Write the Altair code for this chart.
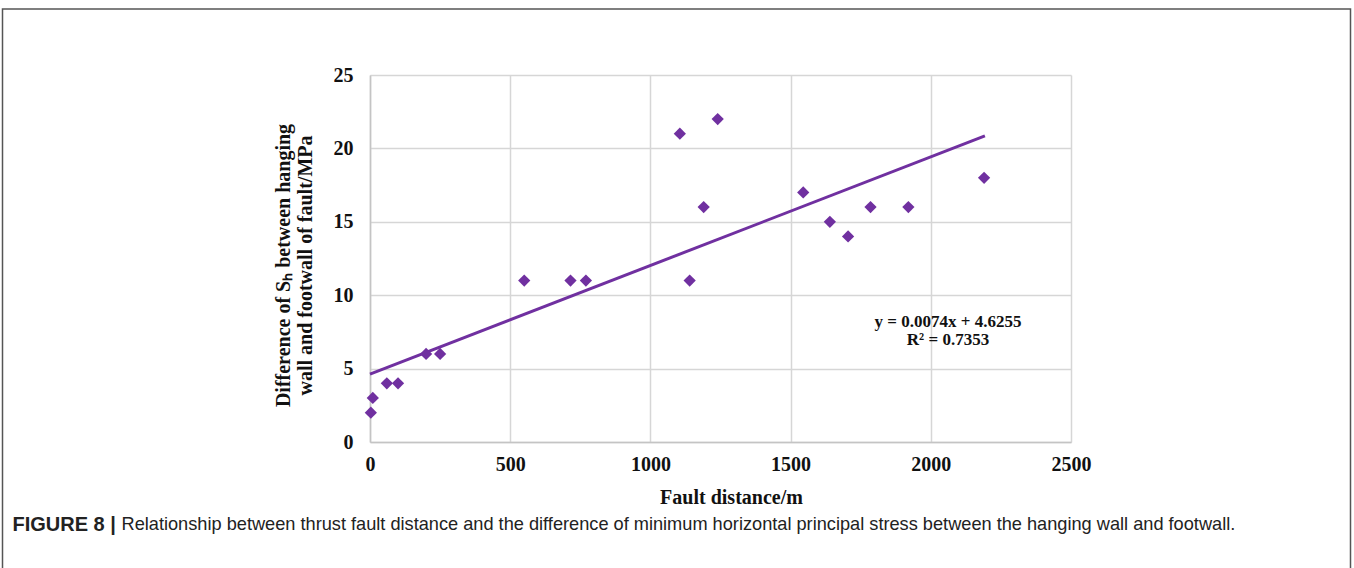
import altair as alt
import pandas as pd

# Fault distance (m) and difference of Sh (MPa)
fault_distance = [3, 10, 60, 100, 200, 250, 550, 715, 770, 1105, 1140, 1190, 1240,
                  1545, 1640, 1705, 1785, 1920, 2190]
sh_difference = [2, 3, 4, 4, 6, 6, 11, 11, 11, 21, 11, 16, 22,
                 17, 15, 14, 16, 16, 18]

# Excel linear trendline end points (y = 0.0074x + 4.6255)
trend_x = [0, 2193]
trend_y = [4.6255, 20.85]

equation_lines = ["y = 0.0074x + 4.6255", "R\u00b2 = 0.7353"]
y_title = ["Difference of S\u2095 between hanging", "wall and footwall of fault/MPa"]
x_title = "Fault distance/m"
caption_bold = "FIGURE 8 |"
caption_text = ("Relationship between thrust fault distance and the difference of minimum "
                "horizontal principal stress between the hanging wall and footwall.")

x_ticks = [0, 500, 1000, 1500, 2000, 2500]
y_ticks = [0, 5, 10, 15, 20, 25]

PURPLE = "#7030A0"
SERIF = "Liberation Serif"
SANS = "Liberation Sans"

pts = pd.DataFrame({"x": fault_distance, "y": sh_difference})
trend = pd.DataFrame({"x": trend_x, "y": trend_y})

xscale = alt.Scale(domain=[0, 2500], nice=False, zero=False)
yscale = alt.Scale(domain=[0, 25], nice=False, zero=False)

xaxis = alt.Axis(values=x_ticks, format="d", title=x_title, grid=True, gridColor="#d6d6d6",
                 gridWidth=1.5, domainColor="#c4c4c4", domainWidth=1.5, tickSize=0,
                 labelPadding=12, labelFlush=False, labelOverlap=False,
                 labelFont=SERIF, labelFontWeight="bold", labelFontSize=20,
                 labelColor="#111",
                 titleFont=SERIF, titleFontWeight="bold", titleFontSize=20, titleColor="#111",
                 titleX=361, titleY=55, titleBaseline="middle", titleAlign="center")
yaxis = alt.Axis(values=y_ticks, format="d", title=y_title, grid=True, gridColor="#d6d6d6",
                 gridWidth=1.5, domainColor="#c4c4c4", domainWidth=1.5, tickSize=0,
                 labelPadding=17, labelFlush=False, labelOverlap=False,
                 labelFont=SERIF, labelFontWeight="bold", labelFontSize=20,
                 labelColor="#111",
                 titleFont=SERIF, titleFontWeight="bold", titleFontSize=20, titleColor="#111",
                 titleX=-87, titleY=190, titleBaseline="middle", titleAlign="center",
                 titleAngle=270, titleLineHeight=22)

points = alt.Chart(pts).mark_point(shape="diamond", filled=True, size=150, color=PURPLE,
                                   opacity=1).encode(
    x=alt.X("x:Q", scale=xscale, axis=xaxis),
    y=alt.Y("y:Q", scale=yscale, axis=yaxis),
)

line = alt.Chart(trend).mark_line(color=PURPLE, strokeWidth=3).encode(
    x=alt.X("x:Q", scale=xscale),
    y=alt.Y("y:Q", scale=yscale),
)

equation = alt.Chart(pd.DataFrame({"a": [0]})).mark_text(
    text=equation_lines, font=SERIF, fontWeight="bold", fontSize=17, color="#111",
    align="center", baseline="middle", lineHeight=18
).encode(x=alt.value(578), y=alt.value(247))

frame = alt.Chart(pd.DataFrame({"a": [0]})).mark_rect(
    fill=None, stroke="#555555", strokeWidth=1.5
).encode(x=alt.value(-367.5), x2=alt.value(980.5), y=alt.value(-66), y2=alt.value(520))

cap1 = alt.Chart(pd.DataFrame({"a": [0]})).mark_text(
    text=caption_bold, font=SANS, fontWeight="bold", fontSize=20, color="#222",
    align="left", baseline="middle"
).encode(x=alt.value(-357.5), y=alt.value(450))

cap2 = alt.Chart(pd.DataFrame({"a": [0]})).mark_text(
    text=caption_text, font=SANS, fontSize=18.2, color="#222",
    align="left", baseline="middle"
).encode(x=alt.value(-248.5), y=alt.value(450))

chart = alt.layer(frame, line, points, equation, cap1, cap2).properties(
    width=701, height=367,
    autosize=alt.AutoSizeParams(type="none"),
    padding={"left": 370, "top": 75, "right": 283, "bottom": 126},
    background="white",
).configure_view(strokeWidth=0)

chart.save("out.html", embed_options={"renderer": "svg", "actions": False})
